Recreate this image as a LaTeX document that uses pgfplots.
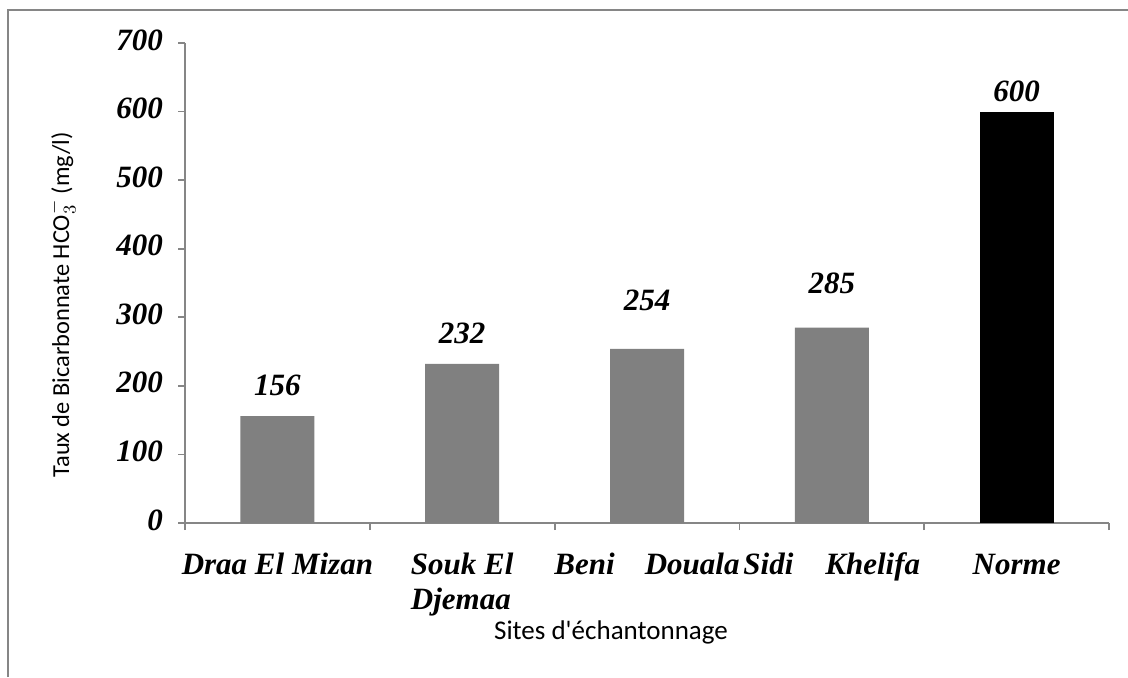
\documentclass[border=0pt]{standalone}
\usepackage{fontspec}
\setmainfont{Liberation Serif}
\newfontfamily\calibri{Carlito}
\usepackage{pgfplots}
\pgfplotsset{compat=1.18}
\definecolor{bargray}{RGB}{128,128,128}
\definecolor{axgray}{RGB}{134,134,134}

\begin{document}
\begin{tikzpicture}
\path[use as bounding box] (0,0) rectangle (564pt,338.5pt);
\draw[axgray, line width=1pt] (4pt,0) -- (4pt,333.5pt) -- (564pt,333.5pt);
\begin{axis}[
  at={(92.5pt,77pt)}, anchor=south west,
  scale only axis, width=462pt, height=240pt,
  xmin=-0.5, xmax=4.5, ymin=0, ymax=700,
  axis x line=bottom, axis y line=left,
  axis line style={-, axgray, line width=0.9pt},
  xtick={-0.5,0.5,...,4.5},
  xticklabel=\empty,
  extra x ticks={0,1,2,3,4},
  extra x tick labels={Draa El Mizan, {Souk El\\Djemaa}, Beni\hspace{15pt}Douala, Sidi\hspace{16pt}Khelifa, Norme},
  extra x tick style={major tick length=0pt, xticklabel style={align=left, anchor=north, yshift=-10pt}},
  typeset ticklabels with strut,
  ytick={0,100,...,700},
  tick align=outside,
  tick style={axgray, line width=0.9pt},
  major tick length=3.5pt,
  tick label style={font=\fontsize{15.5}{17.5}\selectfont\bfseries\itshape},
  yticklabel style={xshift=-4pt},
  /pgf/number format/assume math mode=true,
  clip=false,
]
\addplot[ybar, bar width=37pt, bar shift=0pt, fill=bargray, draw=none]
  coordinates {(0,156) (1,232) (2,254) (3,285)};
\addplot[ybar, bar width=37pt, bar shift=0pt, fill=black, draw=none]
  coordinates {(4,600)};
% value labels, placed by hand like in the source sheet
\addplot[draw=none, mark=none, nodes near coords, point meta=explicit symbolic,
  nodes near coords style={anchor=center, font=\fontsize{15.5}{17.5}\selectfont\bfseries\itshape}]
  coordinates {(0,201)[156] (1,277)[232] (2,325)[254] (3,350)[285] (4,630)[600]};
\end{axis}
\node[rotate=90, font=\calibri\fontsize{12.2}{14}\selectfont] at (31pt,186pt)
  {Taux de Bicarbonnate HCO$_3^-$ (mg/l)};
\node[font=\calibri\fontsize{13.5}{15}\selectfont] at (305.5pt,22.5pt) {Sites d'échantonnage};
\end{tikzpicture}
\end{document}
